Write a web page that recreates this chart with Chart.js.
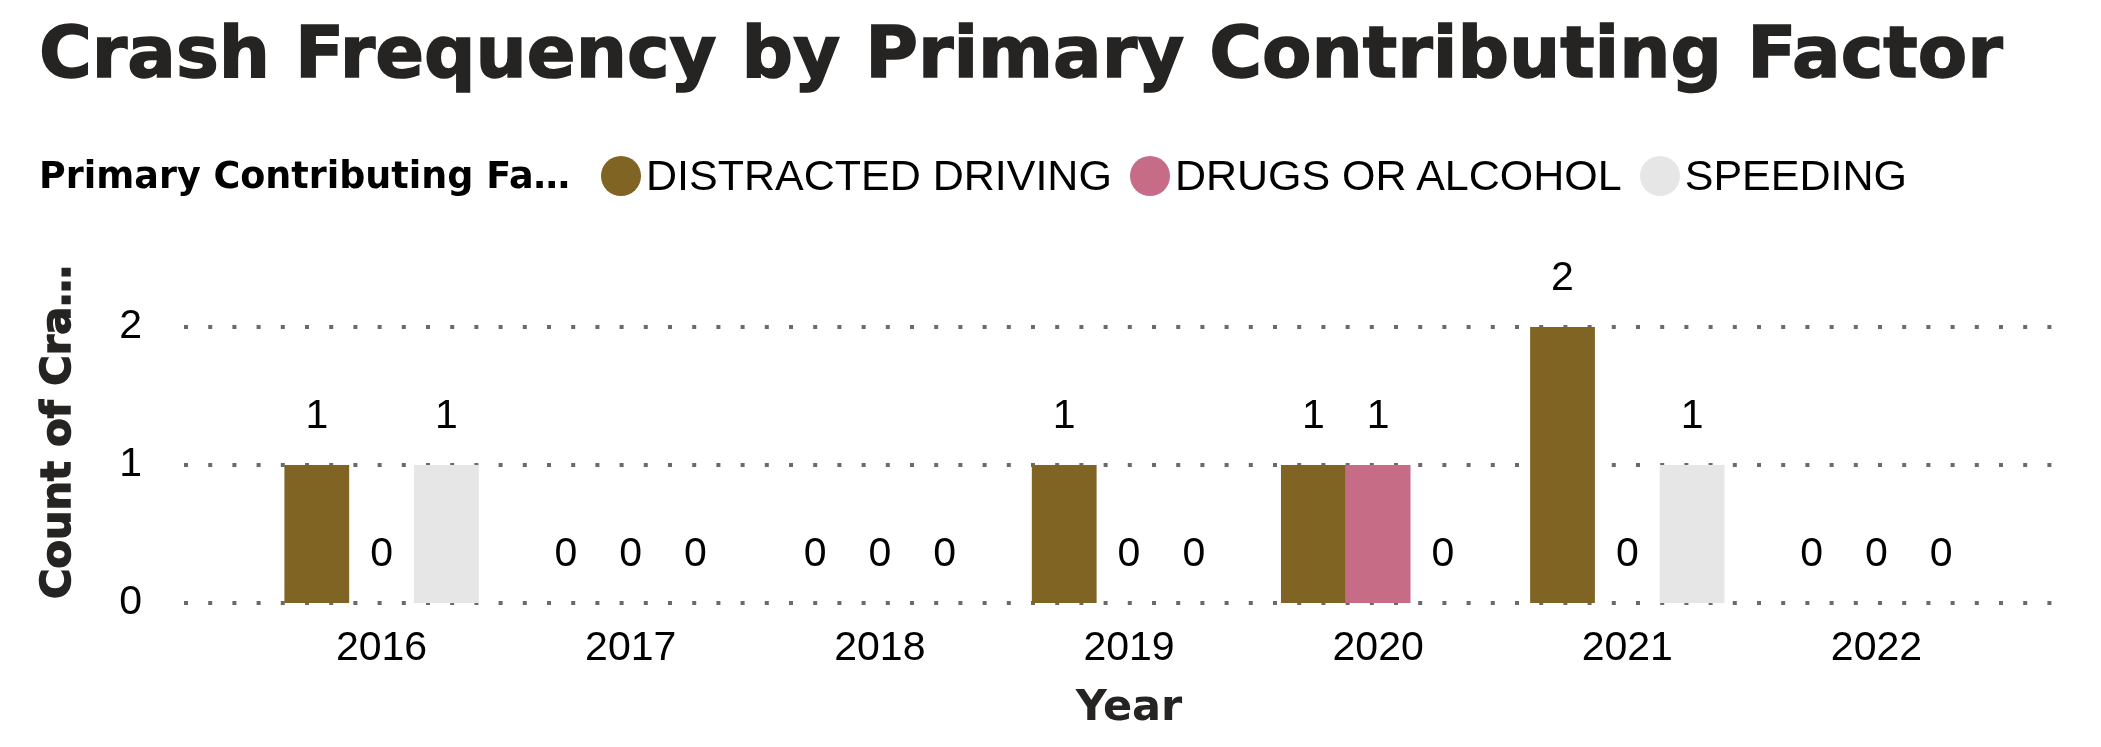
<!DOCTYPE html>
<html>
<head>
<meta charset="utf-8">
<script src="https://cdn.jsdelivr.net/npm/chart.js@4.4.1/dist/chart.umd.min.js"></script>
<style>
  html, body { margin: 0; padding: 0; background: #fff; }
  #pagina { position: relative; width: 2101px; height: 747px; overflow: hidden; }
  #grafico { position: absolute; left: 0; top: 0; width: 2101px; height: 747px; }
  #titulo { position: absolute; left: 39px; top: 16px; font: bold 72px "DejaVu Sans"; line-height: 1; color: #252423; white-space: nowrap; -webkit-text-stroke: 1.5px #252423; }
  #legenda-titulo { position: absolute; left: 39px; top: 155px; font: bold 36.5px "DejaVu Sans"; line-height: 41px; color: #000; white-space: nowrap; }
  #legenda { position: absolute; left: 601px; top: 155px; height: 41px; display: flex; align-items: center; }
  .item { display: flex; align-items: center; margin-right: 18px; }
  .bola { width: 40px; height: 40px; border-radius: 50%; margin-right: 5px; }
  .texto { font: 43px "Liberation Sans"; line-height: 41px; color: #000; white-space: nowrap; }
</style>
</head>
<body>
<div id="pagina">
  <div id="grafico"><canvas id="acidentesChart"></canvas></div>
  <div id="titulo">Crash Frequency by Primary Contributing Factor</div>
  <div id="legenda-titulo">Primary Contributing Fa…</div>
  <div id="legenda"></div>
</div>
<script>
const anos = ['2016', '2017', '2018', '2019', '2020', '2021', '2022'];
const fatores = ['DISTRACTED DRIVING', 'DRUGS OR ALCOHOL', 'SPEEDING'];
const distracao = [1, 0, 0, 1, 1, 2, 0];
const drogasAlcool = [0, 0, 0, 0, 1, 0, 0];
const velocidade = [1, 0, 0, 0, 0, 1, 0];
const ticksY = [0, 1, 2];

const cores = ['#806424', '#C76C86', '#E6E6E6'];

// legenda em HTML, porque o titulo fica na mesma linha dos itens
const legenda = document.getElementById('legenda');
fatores.forEach((nome, i) => {
    const item = document.createElement('div');
    item.className = 'item';
    item.innerHTML = `<span class="bola" style="background:${cores[i]}"></span><span class="texto">${nome}</span>`;
    legenda.appendChild(item);
});

// linhas pontilhadas da grade, mais largas que a area dos dados
const gradePontilhada = {
    id: 'gradePontilhada',
    beforeDatasetsDraw(chart) {
        const { ctx, scales: { y } } = chart;
        ctx.save();
        ctx.strokeStyle = '#6a6a6a';
        ctx.lineWidth = 4;
        ctx.setLineDash([4, 20.2]);
        y.ticks.forEach(t => {
            const py = Math.round(y.getPixelForValue(t.value));
            ctx.beginPath();
            ctx.moveTo(184, py);
            ctx.lineTo(2060, py);
            ctx.stroke();
        });
        ctx.restore();
    }
};

const rotulosValores = {
    id: 'rotulosValores',
    afterDatasetsDraw(chart) {
        const { ctx } = chart;
        ctx.save();
        ctx.font = '41px "Liberation Sans"';
        ctx.fillStyle = '#000';
        ctx.textAlign = 'center';
        ctx.textBaseline = 'middle';
        chart.data.datasets.forEach((ds, i) => {
            chart.getDatasetMeta(i).data.forEach((barra, j) => {
                ctx.fillText(String(ds.data[j]), barra.x, barra.y - 48);
            });
        });
        ctx.restore();
    }
};

const tituloEixoY = {
    id: 'tituloEixoY',
    afterDraw(chart) {
        const { ctx } = chart;
        ctx.save();
        ctx.translate(70, 599);
        ctx.rotate(-Math.PI / 2);
        ctx.font = 'bold 41.5px "DejaVu Sans"';
        ctx.fillStyle = '#252423';
        ctx.strokeStyle = '#252423';
        ctx.lineWidth = 1.5;
        ctx.textAlign = 'left';
        ctx.textBaseline = 'alphabetic';
        ctx.fillText('Count of Cra…', 0, 0);
        ctx.strokeText('Count of Cra…', 0, 0);
        ctx.restore();
    }
};

Chart.defaults.font.family = '"Liberation Sans", Arial, sans-serif';
Chart.defaults.color = '#000';

const ctx = document.getElementById('acidentesChart').getContext('2d');
new Chart(ctx, {
    type: 'bar',
    data: {
        labels: anos,
        datasets: [
            { label: fatores[0], data: distracao, backgroundColor: cores[0] },
            { label: fatores[1], data: drogasAlcool, backgroundColor: cores[1] },
            { label: fatores[2], data: velocidade, backgroundColor: cores[2] }
        ]
    },
    options: {
        responsive: true,
        maintainAspectRatio: false,
        animation: false,
        categoryPercentage: 0.78,
        barPercentage: 1.0,
        layout: { padding: { top: 327, right: 100, bottom: 0, left: 0 } },
        plugins: {
            legend: { display: false },
            tooltip: { enabled: false }
        },
        scales: {
            x: {
                grid: { display: false, drawTicks: false },
                border: { display: false },
                ticks: { font: { size: 41 }, padding: 21, maxRotation: 0, autoSkip: false },
                title: {
                    display: true,
                    text: 'Year',
                    font: { family: '"DejaVu Sans"', weight: 'bold', size: 43 },
                    color: '#252423',
                    padding: { top: 0, bottom: 12 }
                },
                afterFit(scale) { scale.height = 144; }
            },
            y: {
                min: 0,
                max: 2,
                grid: { display: false, drawTicks: false },
                border: { display: false },
                ticks: { font: { size: 41 }, padding: 115 },
                afterBuildTicks(scale) { scale.ticks = ticksY.map(v => ({ value: v })); },
                afterFit(scale) { scale.width = 257; }
            }
        }
    },
    plugins: [gradePontilhada, rotulosValores, tituloEixoY]
});
</script>
</body>
</html>
